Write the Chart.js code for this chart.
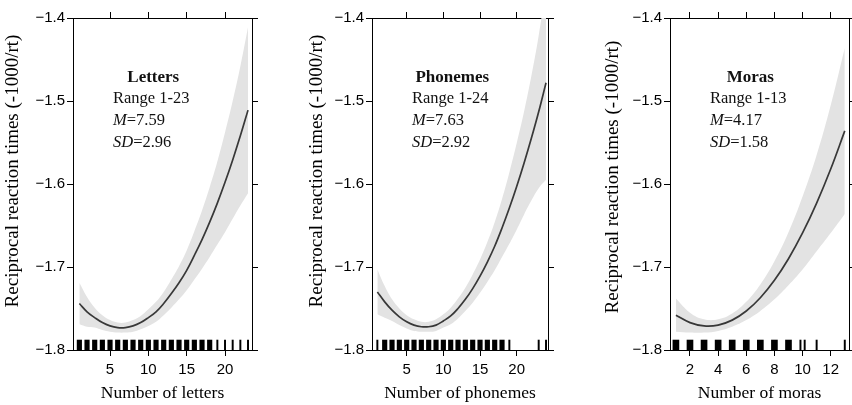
<!DOCTYPE html>
<html>
<head>
<meta charset="utf-8">
<script src="https://cdn.jsdelivr.net/npm/chart.js@4.4.1/dist/chart.umd.min.js"></script>
<style>
  body { margin: 0; background: #fff; width: 852px; height: 405px; overflow: hidden; position: relative; }
  canvas { position: absolute; top: 0; }
</style>
</head>
<body>
<canvas id="letters" width="284" height="405" style="left:0px"></canvas>
<canvas id="phonemes" width="284" height="405" style="left:284px"></canvas>
<canvas id="moras" width="284" height="405" style="left:568px"></canvas>
<script>
// --- data ---
const lettersX = [1, 2, 3, 4, 5, 6, 7, 8, 9, 10, 11, 12, 13, 14, 15, 16, 17, 18, 19, 20, 21, 22, 23];
const lettersFit = [-1.744, -1.754, -1.761, -1.767, -1.771, -1.773, -1.773, -1.771, -1.767, -1.761, -1.754, -1.744,
  -1.732, -1.719, -1.704, -1.686, -1.667, -1.646, -1.623, -1.598, -1.571, -1.542, -1.511];
const lettersLower = [-1.769, -1.772, -1.773, -1.776, -1.778, -1.779, -1.779, -1.778, -1.775, -1.771, -1.766, -1.758,
  -1.749, -1.739, -1.728, -1.715, -1.702, -1.688, -1.673, -1.658, -1.642, -1.626, -1.611];
const lettersUpper = [-1.719, -1.736, -1.749, -1.758, -1.764, -1.767, -1.767, -1.764, -1.759, -1.751, -1.742, -1.730,
  -1.715, -1.699, -1.680, -1.657, -1.632, -1.604, -1.573, -1.538, -1.500, -1.458, -1.411];
const lettersRugDense = [1, 2, 3, 4, 5, 6, 7, 8, 9, 10, 11, 12, 13, 14, 15, 16, 17, 18];
const lettersRugSparse = [19, 20, 21, 22, 23];

const phonemesX = [1, 2, 3, 4, 5, 6, 7, 8, 9, 10, 11, 12, 13, 14, 15, 16, 17, 18, 19, 20, 21, 22, 23, 24];
const phonemesFit = [-1.730, -1.742, -1.752, -1.760, -1.766, -1.770, -1.772, -1.772, -1.770, -1.765, -1.759, -1.750,
  -1.739, -1.726, -1.711, -1.694, -1.675, -1.653, -1.629, -1.603, -1.575, -1.545, -1.513, -1.478];
const phonemesLower = [-1.757, -1.761, -1.765, -1.770, -1.774, -1.777, -1.778, -1.778, -1.777, -1.773, -1.769, -1.762,
  -1.753, -1.743, -1.731, -1.718, -1.704, -1.688, -1.672, -1.655, -1.637, -1.620, -1.605, -1.595];
const phonemesUpper = [-1.703, -1.723, -1.739, -1.750, -1.758, -1.763, -1.766, -1.766, -1.763, -1.757, -1.749, -1.738,
  -1.725, -1.709, -1.691, -1.670, -1.646, -1.618, -1.586, -1.551, -1.513, -1.470, -1.421, -1.361];
const phonemesRugDense = [2, 3, 4, 5, 6, 7, 8, 9, 10, 11, 12, 13, 14, 15, 16, 17, 18];
const phonemesRugSparse = [1, 19, 23, 24];

const morasX = [1, 2, 3, 4, 5, 6, 7, 8, 9, 10, 11, 12, 13];
const morasFit = [-1.758, -1.767, -1.771, -1.770, -1.764, -1.753, -1.737, -1.716, -1.690, -1.659, -1.623, -1.582, -1.536];
const morasLower = [-1.778, -1.779, -1.779, -1.777, -1.772, -1.764, -1.753, -1.739, -1.722, -1.703, -1.681, -1.659, -1.636];
const morasUpper = [-1.738, -1.755, -1.763, -1.763, -1.756, -1.742, -1.721, -1.693, -1.658, -1.615, -1.565, -1.505, -1.436];
const morasRugDense = [1, 2, 3, 4, 5, 6, 7, 8, 9];
const morasRugSparse = [9.85, 10.15, 11, 13];

const yTicksMin = -1.8;
const yTicksMax = -1.4;
const yTitle = 'Reciprocal reaction times (-1000/rt)';

Chart.defaults.font.family = '"Liberation Sans", Arial, sans-serif';
Chart.defaults.color = '#000';
const serif = '"Liberation Serif", "Times New Roman", serif';

// text block inside the plot + rotated y title
const panelText = {
  id: 'panelText',
  afterDraw(chart, args, o) {
    const ctx = chart.ctx, ca = chart.chartArea;
    const left = ca.left + 40;
    ctx.save();
    ctx.fillStyle = '#111';
    ctx.textBaseline = 'alphabetic';
    ctx.font = '16.5px ' + serif;
    const rw = ctx.measureText(o.range).width;
    ctx.fillText(o.range, left, ca.top + 85);
    ctx.font = 'bold 17px ' + serif;
    ctx.textAlign = 'center';
    ctx.fillText(o.title, left + rw / 2 + 2, ca.top + 64);
    ctx.textAlign = 'left';
    const stats = [['M', '=' + o.mean, 107], ['SD', '=' + o.sd, 128.5]];
    stats.forEach(s => {
      ctx.font = 'italic 16.5px ' + serif;
      ctx.fillText(s[0], left, ca.top + s[2]);
      const w = ctx.measureText(s[0]).width;
      ctx.font = '16.5px ' + serif;
      ctx.fillText(s[1], left + w, ca.top + s[2]);
    });
    ctx.translate(ca.left + o.yTitleX, o.yTitleY);
    ctx.rotate(-Math.PI / 2);
    ctx.font = '19px ' + serif;
    ctx.textAlign = 'center';
    ctx.textBaseline = 'middle';
    ctx.fillStyle = '#000';
    ctx.fillText(yTitle, 0, 0);
    ctx.restore();
  }
};

function pts(xs, ys) {
  return xs.map((x, i) => ({ x: x, y: ys[i] }));
}

function rug(xs) {
  return xs.map(x => ({ x: x, y: [yTicksMin, yTicksMin + 0.012] }));
}

function makePanel(id, xs, fit, lower, upper, dense, sparse, p) {
  const tickGrid = { drawOnChartArea: false, color: '#000', tickLength: 6, lineWidth: 1, offset: false };
  const border = { color: '#000', width: 1 };
  return new Chart(document.getElementById(id), {
    type: 'line',
    data: {
      datasets: [
        { data: pts(xs, fit), borderColor: '#383838', borderWidth: 1.7, pointRadius: 0, tension: 0.4, fill: false, order: 0 },
        { data: pts(xs, upper), borderWidth: 0, borderColor: 'rgba(0,0,0,0)', pointRadius: 0, tension: 0.4,
          fill: '+1', backgroundColor: '#e3e3e3', order: 3 },
        { data: pts(xs, lower), borderWidth: 0, borderColor: 'rgba(0,0,0,0)', pointRadius: 0, tension: 0.4, fill: false, order: 3 },
        { type: 'bar', data: rug(dense), backgroundColor: '#000', barThickness: p.denseW, grouped: false, order: 1 },
        { type: 'bar', data: rug(sparse), backgroundColor: '#000', barThickness: 1.3, grouped: false, order: 1 }
      ]
    },
    options: {
      responsive: false,
      animation: false,
      layout: { padding: { top: 12, right: p.padRight, left: 0, bottom: 0 } },
      plugins: {
        legend: { display: false },
        tooltip: { enabled: false },
        panelText: p.text
      },
      scales: {
        x: {
          type: 'linear', position: 'bottom', min: p.xMin, max: p.xMax, offset: false,
          ticks: { stepSize: p.step, includeBounds: false, padding: 5, maxRotation: 0, autoSkip: false, font: { size: 15 } },
          grid: tickGrid, border: border,
          title: { display: true, text: p.xTitle, font: { family: serif, size: 17.5 }, padding: { top: 0, bottom: 1 } },
          afterFit: s => { s.height = 55; }
        },
        x2: {
          type: 'linear', position: 'top', min: p.xMin, max: p.xMax, offset: false,
          ticks: { stepSize: p.step, includeBounds: false, display: false },
          grid: tickGrid, border: border,
          afterFit: s => { s.height = 6; }
        },
        y: {
          type: 'linear', position: 'left', min: yTicksMin, max: yTicksMax,
          ticks: { stepSize: 0.1, padding: 2, font: { size: 15 },
            callback: v => '\u2212' + Math.abs(v).toFixed(1) },
          grid: tickGrid, border: border,
          afterFit: s => { s.width = p.yW; }
        },
        y2: {
          type: 'linear', position: 'right', min: yTicksMin, max: yTicksMax,
          ticks: { stepSize: 0.1, display: false },
          grid: tickGrid, border: border,
          afterFit: s => { s.width = p.y2W; }
        }
      }
    },
    plugins: [panelText]
  });
}

makePanel('letters', lettersX, lettersFit, lettersLower, lettersUpper, lettersRugDense, lettersRugSparse, {
  xMin: 0.17, xMax: 23.52, step: 5, xTitle: 'Number of letters', yW: 73, y2W: 6, padRight: 26, denseW: 4.5,
  text: { title: 'Letters', range: 'Range 1-23', mean: '7.59', sd: '2.96', yTitleX: -59.5, yTitleY: 171 }
});
makePanel('phonemes', phonemesX, phonemesFit, phonemesLower, phonemesUpper, phonemesRugDense, phonemesRugSparse, {
  xMin: 0.27, xMax: 24.27, step: 5, xTitle: 'Number of phonemes', yW: 88, y2W: 6, padRight: 14, denseW: 4.5,
  text: { title: 'Phonemes', range: 'Range 1-24', mean: '7.63', sd: '2.92', yTitleX: -55, yTitleY: 171 }
});
makePanel('moras', morasX, morasFit, morasLower, morasUpper, morasRugDense, morasRugSparse, {
  xMin: 0.58, xMax: 13.3, step: 2, xTitle: 'Number of moras', yW: 102, y2W: 3, padRight: 0, denseW: 6,
  text: { title: 'Moras', range: 'Range 1-13', mean: '4.17', sd: '1.58', yTitleX: -57, yTitleY: 177 }
});
</script>
</body>
</html>
